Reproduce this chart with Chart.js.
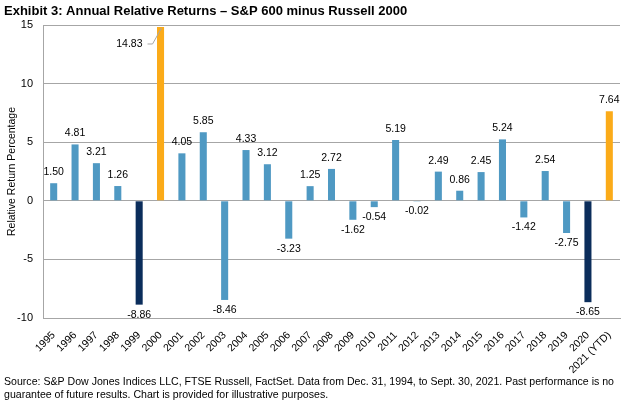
<!DOCTYPE html>
<html>
<head>
<meta charset="utf-8">
<script src="https://cdn.jsdelivr.net/npm/chart.js@4.4.1/dist/chart.umd.min.js"></script>
<style>
  html, body { margin:0; padding:0; background:#fff; }
  #wrap { width:625px; height:407px; position:relative; }
</style>
</head>
<body>
<div id="wrap"><canvas id="chart"></canvas></div>
<script>
  const years = ["1995","1996","1997","1998","1999","2000","2001","2002","2003","2004",
    "2005","2006","2007","2008","2009","2010","2011","2012","2013","2014",
    "2015","2016","2017","2018","2019","2020","2021 (YTD)"];
  const relReturns = [1.50,4.81,3.21,1.26,-8.86,14.83,4.05,5.85,-8.46,4.33,
    3.12,-3.23,1.25,2.72,-1.62,-0.54,5.19,-0.02,2.49,0.86,
    2.45,5.24,-1.42,2.54,-2.75,-8.65,7.64];
  const yTicks = [-10,-5,0,5,10,15];
  const bestYears = ["2000","2021 (YTD)"];
  const worstYears = ["1999","2020"];

  const titleText = "Exhibit 3: Annual Relative Returns \u2013 S&P 600 minus Russell 2000";
  const sourceLines = [
    "Source: S&P Dow Jones Indices LLC, FTSE Russell, FactSet. Data from Dec. 31, 1994, to Sept. 30, 2021. Past performance is no",
    "guarantee of future results. Chart is provided for illustrative purposes."
  ];

  const FONT = "'Liberation Sans', Arial, sans-serif";
  const BLUE = "#4f99c3", NAVY = "#0b2d5b", ORANGE = "#fbab19", GRID = "#a6a6a6";

  function barColor(ctx){
    const y = years[ctx.dataIndex];
    if (bestYears.includes(y)) return ORANGE;
    if (worstYears.includes(y)) return NAVY;
    return BLUE;
  }

  const textPlugin = {
    id: "texts",
    afterDraw(chart){
      const c = chart.ctx;
      c.save();
      c.fillStyle = "#000";
      c.textBaseline = "alphabetic";
      c.textAlign = "left";
      c.font = "bold 13px " + FONT;
      c.fillText(titleText, 4, 15);
      c.font = "11px " + FONT;
      c.fillText(sourceLines[0], 4, 385, 610);
      c.fillText(sourceLines[1], 4, 398, 610 * c.measureText(sourceLines[1]).width / c.measureText(sourceLines[0]).width);

      // value labels
      const meta = chart.getDatasetMeta(0);
      c.font = "10.5px " + FONT;
      c.textAlign = "center";
      c.textBaseline = "middle";
      meta.data.forEach((bar, i) => {
        const v = relReturns[i];
        const txt = v.toFixed(2);
        if (years[i] === "2000"){
          // label sits to the left with a leader line
          c.textAlign = "right";
          c.fillText(txt, bar.x - 18, bar.y + 17);
          c.strokeStyle = GRID;
          c.lineWidth = 1;
          c.beginPath();
          c.moveTo(bar.x - 13, bar.y + 17);
          c.lineTo(bar.x - 8, bar.y + 17);
          c.lineTo(bar.x + 1, bar.y + 1);
          c.stroke();
          c.textAlign = "center";
          return;
        }
        if (v >= 0) c.fillText(txt, bar.x, bar.y - 11);
        else c.fillText(txt, bar.x, bar.y + 10);
      });
      c.restore();
    }
  };

  new Chart(document.getElementById("chart"), {
    type: "bar",
    data: {
      labels: years,
      datasets: [{
        data: relReturns,
        backgroundColor: barColor,
        borderWidth: 0,
        barPercentage: 0.66,
        categoryPercentage: 0.5
      }]
    },
    options: {
      responsive: true,
      maintainAspectRatio: false,
      animation: false,
      devicePixelRatio: 1,
      layout: { padding: { top: 25, right: 5, left: 0, bottom: 0 } },
      plugins: { legend: { display:false }, tooltip: { enabled:false } },
      scales: {
        x: {
          grid: { display:false },
          border: { display:true, color: GRID },
          ticks: {
            autoSkip:false, minRotation:45, maxRotation:45,
            color:"#000", font:{ family: FONT, size: 10.5 }, padding: 3
          },
          afterFit(s){ s.height = 89; }
        },
        y: {
          min: -10, max: 15,
          afterBuildTicks(s){ s.ticks = yTicks.map(v => ({ value: v })); },
          grid: { color: GRID, drawTicks:false },
          border: { display:true, color: GRID },
          ticks: { color:"#000", font:{ family: FONT, size: 11 }, padding: 10 },
          title: {
            display:true, text:"Relative Return Percentage",
            color:"#000", font:{ family: FONT, size: 10.5 }, padding:{ top:6, bottom:0 }
          },
          afterFit(s){ s.width = 43; }
        }
      }
    },
    plugins: [textPlugin]
  });
</script>
</body>
</html>
